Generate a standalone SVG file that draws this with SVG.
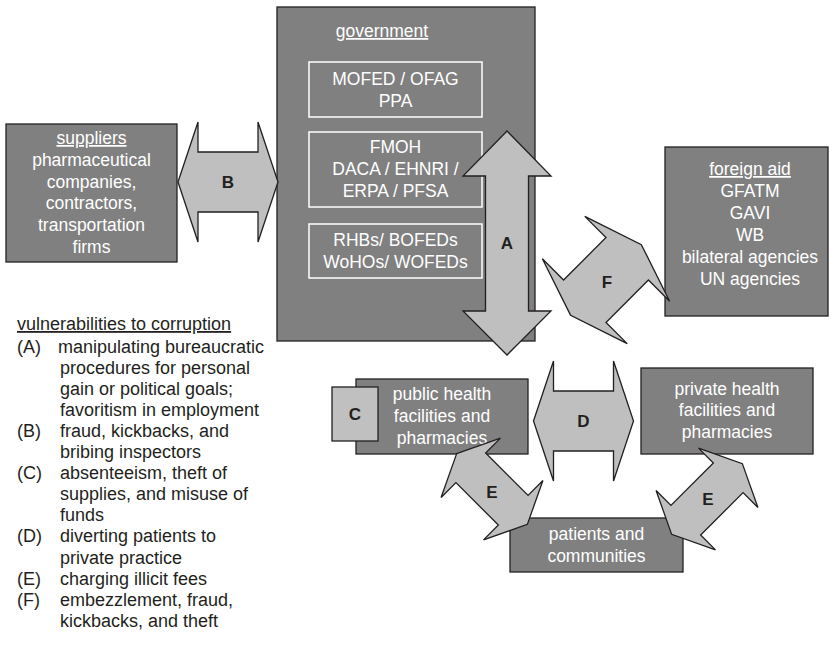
<svg xmlns="http://www.w3.org/2000/svg" width="832" height="648" viewBox="0 0 832 648">
<style>
.box{fill:#808080;stroke:#231f20;stroke-width:1.3}
.inner{fill:none;stroke:#ffffff;stroke-width:1.5}
.arr{fill:#bfbfbf;stroke:#231f20;stroke-width:1.3;stroke-linejoin:miter}
.cbox{fill:#c0c0c0;stroke:#231f20;stroke-width:1.3}
.t{font-family:"Liberation Sans",Arial,sans-serif;font-size:17.5px;fill:#ffffff;text-anchor:middle}
.lbl{font-family:"Liberation Sans",Arial,sans-serif;font-size:17px;font-weight:bold;fill:#231f20;text-anchor:middle}
.leg{font-family:"Liberation Sans",Arial,sans-serif;font-size:18px;fill:#231f20}
.u{text-decoration:underline}
</style>
<defs>
<polygon id="dbl" points="-50,0 -30,-60 -30,-30 30,-30 30,-60 50,0 30,60 30,30 -30,30 -30,60"/>
<polygon id="dblE" points="-50,0 -30,-42 -30,-21 30,-21 30,-42 50,0 30,42 30,21 -30,21 -30,42"/>
</defs>
<rect width="832" height="648" fill="#ffffff"/>

<g id="suppliers">
<rect class="box" x="6" y="124" width="171" height="138"/>
<text class="t" x="91.5" y="144"><tspan class="u">suppliers</tspan></text>
<text class="t" x="91.5" y="165.8">pharmaceutical</text>
<text class="t" x="91.5" y="187.6">companies,</text>
<text class="t" x="91.5" y="209.4">contractors,</text>
<text class="t" x="91.5" y="231.2">transportation</text>
<text class="t" x="91.5" y="253">firms</text>
</g>

<g id="government">
<rect class="box" x="277" y="7" width="258" height="334"/>
<text class="t" x="382" y="37"><tspan class="u">government</tspan></text>
<g id="gov-mofed">
<rect class="inner" x="309" y="62" width="173" height="55"/>
<text class="t" x="395.5" y="85">MOFED / OFAG</text>
<text class="t" x="395.5" y="106.5">PPA</text>
</g>
<g id="gov-fmoh">
<rect class="inner" x="309" y="132" width="173" height="75"/>
<text class="t" x="395.5" y="152.5">FMOH</text>
<text class="t" x="395.5" y="174.5">DACA / EHNRI /</text>
<text class="t" x="395.5" y="196.5">ERPA / PFSA</text>
</g>
<g id="gov-rhb">
<rect class="inner" x="309" y="224" width="173" height="54"/>
<text class="t" x="395.5" y="245.5">RHBs/ BOFEDs</text>
<text class="t" x="395.5" y="267.5">WoHOs/ WOFEDs</text>
</g>
</g>

<g id="foreign-aid">
<rect class="box" x="665" y="147" width="163" height="169"/>
<text class="t" x="750" y="175"><tspan class="u">foreign aid</tspan></text>
<text class="t" x="750" y="197">GFATM</text>
<text class="t" x="750" y="219">GAVI</text>
<text class="t" x="750" y="241">WB</text>
<text class="t" x="750" y="263">bilateral agencies</text>
<text class="t" x="750" y="285">UN agencies</text>
</g>

<g id="public-health">
<rect class="box" x="356" y="379" width="172" height="75"/>
<text class="t" x="442" y="400">public health</text>
<text class="t" x="442" y="422">facilities and</text>
<text class="t" x="442" y="444">pharmacies</text>
</g>

<g id="vulnerability-C">
<rect class="cbox" x="332" y="387" width="46" height="54"/>
<text class="lbl" x="355" y="420">C</text>
</g>

<g id="private-health">
<rect class="box" x="641" y="368" width="172" height="86"/>
<text class="t" x="727" y="394.5">private health</text>
<text class="t" x="727" y="416">facilities and</text>
<text class="t" x="727" y="437.5">pharmacies</text>
</g>

<g id="patients">
<rect class="box" x="510" y="518" width="173" height="54"/>
<text class="t" x="596.5" y="539.5">patients and</text>
<text class="t" x="596.5" y="561.5">communities</text>
</g>

<g id="connectors">
<g id="arrow-A">
<polygon class="arr" points="507,131 551,176 528.5,176 528.5,311 551,311 507,355 463,311 485.5,311 485.5,176 463,176"/>
<text class="lbl" x="507" y="249">A</text>
</g>
<g id="arrow-B">
<use href="#dbl" class="arr" transform="translate(228,182)"/>
<text class="lbl" x="228" y="188">B</text>
</g>
<g id="arrow-D">
<use href="#dbl" class="arr" transform="translate(583.5,421)"/>
<text class="lbl" x="583.5" y="427">D</text>
</g>
<g id="arrow-F">
<use href="#dbl" class="arr" transform="translate(606,280) rotate(-45)"/>
<text class="lbl" x="607" y="288">F</text>
</g>
<g id="arrow-E1">
<use href="#dblE" class="arr" transform="translate(492,489) rotate(45)"/>
<text class="lbl" x="492" y="498">E</text>
</g>
<g id="arrow-E2">
<use href="#dblE" class="arr" transform="translate(707,499) rotate(-45)"/>
<text class="lbl" x="708" y="505">E</text>
</g>
</g>

<g id="legend">
<text class="leg" x="17" y="330"><tspan class="u">vulnerabilities to corruption</tspan></text>
<text class="leg" x="17" y="352.5">(A)</text>
<text class="leg" x="58" y="352.5">manipulating bureaucratic</text>
<text class="leg" x="60" y="373.6">procedures for personal</text>
<text class="leg" x="60" y="394.7">gain or political goals;</text>
<text class="leg" x="60" y="415.8">favoritism in employment</text>
<text class="leg" x="17" y="436.9">(B)</text>
<text class="leg" x="60" y="436.9">fraud, kickbacks, and</text>
<text class="leg" x="60" y="458">bribing inspectors</text>
<text class="leg" x="17" y="479.1">(C)</text>
<text class="leg" x="60" y="479.1">absenteeism, theft of</text>
<text class="leg" x="60" y="500.2">supplies, and misuse of</text>
<text class="leg" x="60" y="521.3">funds</text>
<text class="leg" x="17" y="542.4">(D)</text>
<text class="leg" x="60" y="542.4">diverting patients to</text>
<text class="leg" x="60" y="563.5">private practice</text>
<text class="leg" x="17" y="584.6">(E)</text>
<text class="leg" x="60" y="584.6">charging illicit fees</text>
<text class="leg" x="17" y="605.7">(F)</text>
<text class="leg" x="60" y="605.7">embezzlement, fraud,</text>
<text class="leg" x="60" y="626.8">kickbacks, and theft</text>
</g>
</svg>
